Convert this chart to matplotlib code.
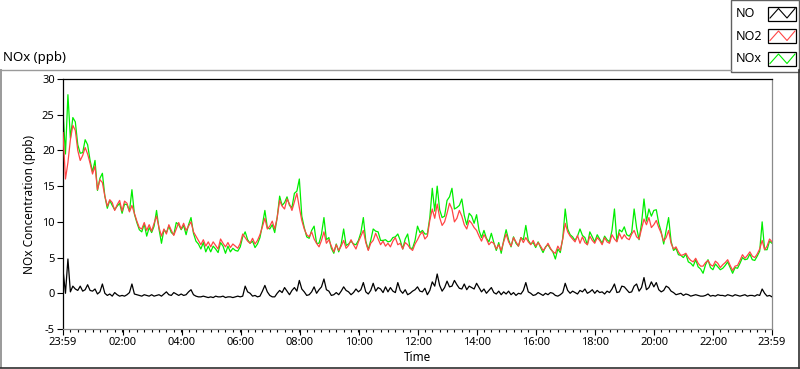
import numpy as np
import matplotlib.pyplot as plt
from matplotlib.lines import Line2D
from matplotlib.patches import Rectangle
from matplotlib.ticker import FixedLocator, NullFormatter

plt.rcParams['font.family'] = ['Noto Sans', 'DejaVu Sans']
plt.rcParams['axes.unicode_minus'] = False

# readings every 5 minutes, starting 23:59 the day before (one row per hour)
step_min = 5

no = [3.3, 0.0, 4.8, 0.2, 1.0, 0.6, 0.4, 1.0, 0.3, 0.5, 1.2, 0.4,
      0.3, 0.6, -0.1, 0.2, 1.3, 0.0, -0.3, -0.1, -0.4, 0.1, -0.2, -0.4,
      -0.3, -0.4, -0.2, 0.1, 1.3, -0.1, -0.2, -0.3, -0.4, -0.2, -0.3, -0.4,
      -0.2, -0.4, -0.3, -0.2, -0.4, -0.1, 0.2, -0.2, -0.3, 0.1, -0.1, -0.3,
      -0.1, -0.3, -0.2, 0.2, 0.5, -0.2, -0.4, -0.5, -0.5, -0.4, -0.5, -0.6,
      -0.5, -0.6, -0.4, -0.5, -0.5, -0.4, -0.6, -0.5, -0.5, -0.6, -0.5, -0.4,
      -0.5, -0.4, 1.0, 0.2, 0.0, -0.4, -0.3, -0.5, -0.4, 0.3, 1.1, 0.2,
      -0.3, -0.5, -0.5, 0.0, 0.4, 0.1, 0.8, 0.3, -0.2, 0.4, 0.8, 0.3,
      1.8, 0.6, 0.2, -0.3, -0.2, 0.2, 0.9, 0.0, 0.5, 0.9, 2.0, 0.5,
      0.3, -0.3, -0.2, 0.1, -0.2, 0.3, 0.9, 0.4, 0.2, -0.2, 0.1, 0.6,
      0.2, 0.5, 1.5, 0.2, -0.1, 0.4, 1.4, 0.3, 0.8, 0.6, 0.1, 0.9,
      0.2, 0.8, 0.3, 0.1, 1.5, 0.4, 0.0, 0.5, -0.2, 0.0, 0.3, 0.5,
      0.9, 0.3, 0.2, 0.7, -0.2, 0.4, 1.6, 1.0, 2.7, 1.1, 0.3, 0.8,
      1.7, 0.9, 1.0, 1.8, 1.2, 0.7, 0.6, 1.3, 0.5, 1.0, 0.8, 0.6,
      1.4, 0.8, 0.2, 0.6, 0.0, 0.4, 0.8, 0.1, -0.1, 0.3, -0.2, 0.2,
      -0.1, 0.3, -0.2, 0.1, -0.3, 0.0, -0.1, 0.4, 1.5, 0.2, 0.0, -0.3,
      -0.2, 0.1, -0.1, -0.3, 0.0, -0.2, 0.1, 0.0, -0.3, -0.4, -0.2, 0.1,
      1.4, 0.4, 0.0, 0.3, 0.1, -0.1, 0.4, 0.2, 0.6, 0.0, 0.2, 0.5,
      0.0, 0.4, 0.1, 0.2, -0.1, 0.3, 0.1, 0.6, 1.3, 0.1, 0.2, 1.0,
      0.9, 0.5, 0.1, 0.2, 1.0, 1.3, 0.3, 0.8, 2.2, 0.5, 0.8, 1.6,
      0.9, 1.5, 0.5, 0.2, 0.4, 1.0, 0.8, 0.3, 0.1, -0.2, -0.1, 0.0,
      -0.3, -0.1, -0.2, -0.4, -0.3, -0.2, -0.3, -0.4, -0.4, -0.3, -0.1, -0.4,
      -0.3, -0.4, -0.2, -0.3, -0.3, -0.4, -0.2, -0.3, -0.4, -0.2, -0.3, -0.4,
      -0.3, -0.2, -0.4, -0.3, -0.3, -0.4, -0.2, -0.3, 0.6, 0.0, -0.4, -0.3, -0.5]

no2 = [22.5, 16.0, 18.3, 21.5, 23.5, 22.8, 20.0, 18.6, 19.3, 20.4, 19.5, 18.2,
       16.7, 17.8, 14.5, 15.9, 15.5, 13.6, 12.2, 13.1, 12.7, 11.6, 12.4, 13.0,
       11.5, 12.9, 12.6, 11.4, 12.3, 11.2, 10.1, 9.2, 9.0, 9.9, 8.8, 9.6,
       8.7, 9.8, 10.8, 9.2, 8.0, 9.0, 8.3, 9.6, 8.8, 8.1, 9.0, 9.9,
       9.0, 9.8, 8.8, 9.4, 10.0, 8.6, 8.0, 7.4, 6.8, 7.5, 6.6, 7.2,
       6.5, 7.2, 6.7, 6.2, 7.6, 7.0, 6.5, 7.1, 6.4, 6.9, 6.6, 6.3,
       7.0, 8.3, 7.8, 7.3, 7.0, 7.7, 6.9, 7.4, 8.2, 9.3, 10.5, 9.0,
       9.4, 10.1, 9.0, 10.6, 13.0, 12.2, 11.8, 13.2, 12.5, 11.6, 12.8, 14.0,
       12.0, 10.2, 9.0, 8.2, 7.9, 8.6, 7.6, 7.0, 6.5, 7.4, 8.6, 7.0,
       7.5, 6.6, 5.8, 6.8, 6.0, 6.6, 7.4, 6.3, 6.7, 7.5, 6.8, 6.2,
       7.2, 8.0, 8.8, 7.1, 6.0, 7.0, 7.4, 8.4, 7.6, 6.8, 7.3, 6.6,
       7.0, 6.5, 7.3, 7.8, 6.8, 7.0, 6.2, 7.1, 6.8, 6.3, 6.0, 6.9,
       7.5, 8.2, 8.6, 7.6, 8.0, 10.2, 11.8, 10.5, 12.5, 10.6, 9.5, 10.0,
       11.2, 12.6, 11.8, 10.0, 10.5, 11.6, 10.8, 9.6, 9.0, 10.2, 9.8, 9.2,
       8.8, 8.0, 7.3, 8.2, 7.6, 6.8, 7.2, 7.0, 6.2, 6.8, 6.0, 7.2,
       8.3, 7.2, 6.6, 7.8, 7.2, 6.6, 7.8, 7.1, 7.8, 7.2, 6.8, 7.4,
       6.6, 7.1, 6.6, 6.0, 6.4, 7.0, 6.3, 5.8, 5.6, 6.6, 6.0, 7.6,
       9.8, 8.6, 8.0, 7.6, 7.2, 8.1, 7.0, 7.9, 7.1, 6.8, 8.0, 7.4,
       7.0, 7.8, 7.4, 6.8, 7.8, 7.2, 7.0, 8.2, 7.6, 7.2, 8.4, 7.6,
       8.2, 7.7, 7.5, 8.3, 8.8, 7.9, 7.6, 9.0, 10.4, 9.6, 10.6, 9.2,
       9.6, 10.2, 9.2, 8.4, 7.3, 7.8, 8.8, 7.0, 6.2, 6.5, 5.8, 5.3,
       5.4, 5.6, 5.0, 4.6, 4.4, 4.9, 4.2, 3.8, 3.8, 4.3, 4.6, 4.0,
       3.8, 4.5, 4.2, 3.6, 4.0, 4.3, 4.7, 3.9, 3.2, 3.8, 3.9, 4.6,
       5.4, 4.9, 5.3, 5.8, 5.2, 5.0, 5.5, 6.2, 7.4, 6.1, 6.6, 7.6, 7.2]

nox = [25.5, 19.5, 27.8, 21.7, 24.6, 24.0, 20.8, 19.6, 19.7, 21.5, 20.8, 18.6,
       17.0, 18.6, 14.4, 16.1, 16.8, 13.6, 11.9, 13.0, 12.3, 11.7, 12.2, 12.6,
       11.2, 12.5, 12.4, 11.5, 14.5, 11.1, 9.9, 8.9, 8.6, 9.7, 8.0, 9.2,
       8.5, 9.4, 11.6, 9.0, 7.0, 8.9, 8.5, 9.4, 8.5, 8.2, 9.9, 9.6,
       8.9, 9.5, 8.2, 9.6, 10.6, 8.4, 7.3, 6.9, 6.2, 7.1, 5.8, 6.6,
       5.8, 6.6, 6.2, 5.7, 7.1, 6.6, 5.6, 6.6, 5.8, 6.3, 6.0, 5.9,
       6.5, 7.9, 8.6, 7.5, 7.0, 7.3, 6.4, 6.9, 7.8, 9.6, 11.6, 9.2,
       9.0, 9.6, 8.5, 10.6, 13.6, 12.3, 12.7, 13.5, 12.3, 12.0, 14.0, 14.3,
       16.0, 10.8, 9.2, 7.9, 7.7, 8.8, 9.4, 7.0, 7.0, 8.3, 10.6, 7.5,
       7.8, 6.3, 5.6, 6.9, 5.8, 6.9, 9.0, 6.7, 6.9, 7.3, 6.9, 6.8,
       7.4, 8.5, 10.6, 7.3, 6.1, 7.4, 9.0, 8.7, 8.6, 7.4, 7.4, 7.5,
       7.2, 7.3, 7.8, 7.9, 8.3, 7.4, 6.2, 7.6, 8.3, 6.3, 6.3, 7.4,
       9.4, 8.5, 8.8, 8.3, 8.3, 10.6, 14.7, 11.5, 15.0, 11.7, 10.6, 10.8,
       13.0, 13.5, 14.7, 11.8, 12.0, 12.3, 13.2, 10.9, 9.6, 11.2, 10.8, 9.8,
       11.0, 8.8, 7.8, 8.8, 7.7, 7.2, 8.4, 7.1, 6.0, 7.1, 5.6, 7.4,
       8.9, 7.5, 6.5, 7.9, 7.0, 6.6, 7.8, 7.5, 9.5, 7.4, 6.9, 7.1,
       6.4, 7.2, 6.4, 5.7, 6.5, 6.8, 6.2, 5.8, 4.8, 6.2, 5.7, 7.7,
       11.8, 9.0, 8.2, 7.9, 7.4, 8.0, 9.0, 8.1, 7.8, 6.8, 8.6, 7.9,
       7.2, 8.2, 7.6, 7.0, 8.0, 7.5, 7.2, 8.8, 11.8, 7.3, 8.9, 8.6,
       9.3, 8.2, 8.0, 8.5, 11.8, 9.2, 7.5, 9.8, 13.2, 10.1, 11.8, 10.8,
       11.6, 11.7, 9.8, 8.6, 6.9, 8.8, 10.6, 7.3, 6.0, 6.3, 5.4, 5.3,
       5.0, 5.5, 4.4, 4.2, 3.8, 4.7, 3.7, 3.4, 2.8, 4.0, 4.7, 3.6,
       3.3, 4.1, 3.7, 3.3, 3.5, 3.9, 4.4, 3.6, 2.8, 3.6, 3.5, 4.2,
       5.0, 4.7, 4.8, 5.5, 4.7, 4.6, 5.2, 5.9, 10.0, 6.1, 6.1, 7.3, 7.0]

tick_labels = ['23:59', '02:00', '04:00', '06:00', '08:00', '10:00', '12:00',
               '14:00', '16:00', '18:00', '20:00', '22:00', '23:59']
series_names = ['NO', 'NO2', 'NOx']
series_colors = ['black', '#ff4545', '#00ee00']

t = np.arange(len(no2)) * step_min / 60.0  # hours since 23:59

# tick positions in hours since 23:59 (last label is the end of the day)
tick_pos = [0.0]
for lab in tick_labels[1:-1]:
    h, m = map(int, lab.split(':'))
    tick_pos.append((h * 60 + m + 1) / 60.0)
tick_pos.append(24.0)

W, H = 800, 369
fig = plt.figure(figsize=(W / 100, H / 100), dpi=100)


def fx(x):
    return x / W


def fy(y):
    return 1 - y / H


ax = fig.add_axes([fx(63), fy(329), (772 - 63) / W, (329 - 79) / H])
ax.plot(t, nox, color=series_colors[2], lw=0.9, zorder=2)
ax.plot(t, no2, color=series_colors[1], lw=0.9, zorder=3)
ax.plot(t, no, color=series_colors[0], lw=0.9, zorder=4)

ax.set_xlim(0, 24)
ax.set_ylim(-5, 30)
ax.set_yticks(np.arange(-5, 31, 5))
ax.xaxis.set_major_locator(FixedLocator(tick_pos))
ax.set_xticklabels(tick_labels)
ax.xaxis.set_minor_locator(FixedLocator(np.arange(0.25, 24, 0.25)))
ax.xaxis.set_minor_formatter(NullFormatter())
ax.tick_params(axis='both', which='major', labelsize=8, length=4, width=0.8, color='black', pad=2)
ax.tick_params(axis='x', which='minor', length=2.5, width=0.8, color='black')

ax.spines['left'].set_color('black')
ax.spines['top'].set_color('black')
ax.spines['right'].set_color('#8a8a8a')
ax.spines['bottom'].set_color('#8a8a8a')
for s in ax.spines.values():
    s.set_linewidth(0.9)

ax.set_xlabel('Time', fontsize=8.5, labelpad=2)
ax.set_ylabel('NOx Concentration (ppb)', fontsize=8.5, labelpad=4)

# title above the graph panel
fig.text(fx(3), fy(58), 'NOx (ppb)', fontsize=9.5, va='center', ha='left')

# graph panel frame
fig.add_artist(Line2D([fx(0), fx(731)], [fy(69.5), fy(69.5)], color='#9a9a9a', lw=1))
fig.add_artist(Line2D([fx(0.8), fx(0.8)], [fy(69.5), fy(367)], color='#9a9a9a', lw=1.4))
fig.add_artist(Line2D([fx(0), fx(799)], [fy(367.5), fy(367.5)], color='#303030', lw=1.2))
fig.add_artist(Line2D([fx(798.5), fx(798.5)], [fy(69.5), fy(368)], color='#303030', lw=1.2))

# legend box
fig.add_artist(Rectangle((fx(730.5), fy(71.5)), (799 - 730.5) / W, 71.5 / H,
                         transform=fig.transFigure, fill=True, facecolor='white',
                         edgecolor='#606060', lw=1))
box_tops = [6.5, 29.0, 52.0]
for name, color, top in zip(series_names, series_colors, box_tops):
    bottom = top + 14
    fig.text(fx(735.5), fy((top + bottom) / 2), name, fontsize=9, va='center', ha='left')
    fig.add_artist(Rectangle((fx(767.5), fy(bottom)), 28.5 / W, 14 / H,
                             transform=fig.transFigure, fill=False,
                             edgecolor='black', lw=0.9))
    zx = [fx(770), fx(778.5), fx(787), fx(795)]
    zy = [fy(bottom - 2.5), fy(top + 2), fy(bottom - 2.5), fy(top + 2)]
    fig.add_artist(Line2D(zx, zy, color=color, lw=0.8))

fig.savefig('out.png', dpi=100)
